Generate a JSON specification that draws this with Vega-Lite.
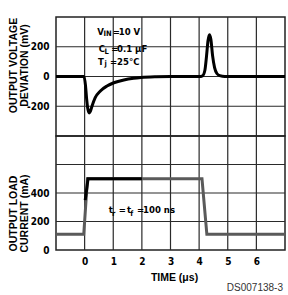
{
  "$schema": "https://vega.github.io/schema/vega-lite/v6.json",
  "padding": {"left": 7, "top": 11, "right": 0, "bottom": 0},
  "background": "white",
  "title": {"text": "DS007138-3", "orient": "bottom", "anchor": "end", "frame": "group", "font": "Liberation Sans", "fontSize": 10, "fontWeight": "normal", "color": "#333", "offset": 0, "dx": -2},
  "spacing": 0,
  "bounds": "flush",
  "datasets": {
    "volt": [
      {"t": -1, "v": 0}, {"t": -0.02, "v": 0}, {"t": 0.03, "v": -60}, {"t": 0.07, "v": -150},
      {"t": 0.11, "v": -215}, {"t": 0.16, "v": -245}, {"t": 0.2, "v": -235}, {"t": 0.26, "v": -198},
      {"t": 0.37, "v": -142}, {"t": 0.55, "v": -97}, {"t": 0.78, "v": -64}, {"t": 1.02, "v": -42},
      {"t": 1.37, "v": -23}, {"t": 1.71, "v": -12}, {"t": 1.97, "v": -7}, {"t": 2.5, "v": -2},
      {"t": 3, "v": 0}, {"t": 4.0, "v": 0}, {"t": 4.12, "v": 5}, {"t": 4.2, "v": 40},
      {"t": 4.26, "v": 140}, {"t": 4.31, "v": 240}, {"t": 4.36, "v": 281}, {"t": 4.41, "v": 250},
      {"t": 4.47, "v": 140}, {"t": 4.54, "v": 60}, {"t": 4.62, "v": 20}, {"t": 4.72, "v": 6},
      {"t": 4.9, "v": 0}, {"t": 7, "v": 0}
    ],
    "curGray": [
      {"t": -1, "i": 110}, {"t": -0.03, "i": 110}, {"t": 0.1, "i": 500}, {"t": 4.1, "i": 500},
      {"t": 4.27, "i": 110}, {"t": 7, "i": 110}
    ],
    "curBlack": [
      {"t": 0.02, "i": 350}, {"t": 0.12, "i": 500}, {"t": 2.0, "i": 500}
    ],
    "xGrid": [{"g": 0}, {"g": 1}, {"g": 2}, {"g": 3}, {"g": 4}, {"g": 5}, {"g": 6}],
    "topYGrid": [{"g": -200}, {"g": 0}, {"g": 200}],
    "botYGrid": [{"g": 200}, {"g": 400}, {"g": 600}],
    "topMain": [
      {"x": 0.443, "y": 281, "s": "V"}, {"x": 0.981, "y": 281, "s": "="}, {"x": 1.19, "y": 281, "s": "10 V"},
      {"x": 0.492, "y": 163, "s": "C"}, {"x": 0.932, "y": 163, "s": "="}, {"x": 1.131, "y": 163, "s": "0.1 μF"},
      {"x": 0.467, "y": 79, "s": "T"}, {"x": 0.886, "y": 79, "s": "="}, {"x": 1.131, "y": 79, "s": "25°C"}
    ],
    "topSub": [
      {"x": 0.66, "y": 270, "s": "IN"}, {"x": 0.69, "y": 150, "s": "L"}, {"x": 0.69, "y": 70, "s": "j"}
    ],
    "botMain": [
      {"x": 0.841, "y": 257, "s": "t"}, {"x": 1.19, "y": 257, "s": "="}, {"x": 1.48, "y": 257, "s": "t"},
      {"x": 1.83, "y": 257, "s": "="}, {"x": 2.04, "y": 257, "s": "100 ns"}
    ],
    "botSub": [
      {"x": 0.956, "y": 240, "s": "r"}, {"x": 1.596, "y": 240, "s": "f"}
    ]
  },
  "vconcat": [
    {
      "width": 229,
      "height": 119,
      "layer": [
        {
          "data": {"name": "xGrid"},
          "mark": {"type": "rule", "color": "#2a2a2a", "strokeWidth": 1.2},
          "encoding": {
            "x": {"field": "g", "type": "quantitative", "scale": {"domain": [-1, 7], "nice": false, "zero": false},
              "axis": {"tickCount": 8, "labels": false, "title": null}}
          }
        },
        {
          "data": {"name": "topYGrid"},
          "mark": {"type": "rule", "color": "#2a2a2a", "strokeWidth": 1.2},
          "encoding": {
            "y": {"field": "g", "type": "quantitative", "scale": {"domain": [-400, 400], "nice": false, "zero": false},
              "axis": {"tickCount": 4,
                "labelExpr": "datum.value == 400 || datum.value == -400 ? '' : '' + datum.value",
                "title": ["OUTPUT VOLTAGE", "DEVIATION (mV)"],
                "titleX": -43, "titleY": 48, "titleBaseline": "middle", "titleAlign": "center", "titleAngle": -90}}
          }
        },
        {
          "data": {"name": "volt"},
          "mark": {"type": "line", "color": "black", "strokeWidth": 3, "interpolate": "monotone"},
          "encoding": {
            "x": {"field": "t", "type": "quantitative"},
            "y": {"field": "v", "type": "quantitative"}
          }
        },
        {
          "data": {"name": "topMain"},
          "mark": {"type": "text", "align": "left", "baseline": "alphabetic", "font": "DejaVu Sans Condensed", "fontWeight": "bold", "fontSize": 9.5, "color": "black"},
          "encoding": {
            "x": {"field": "x", "type": "quantitative"},
            "y": {"field": "y", "type": "quantitative"},
            "text": {"field": "s"}
          }
        },
        {
          "data": {"name": "topSub"},
          "mark": {"type": "text", "align": "left", "baseline": "alphabetic", "font": "DejaVu Sans Condensed", "fontWeight": "bold", "fontSize": 7.5, "color": "black"},
          "encoding": {
            "x": {"field": "x", "type": "quantitative"},
            "y": {"field": "y", "type": "quantitative"},
            "text": {"field": "s"}
          }
        }
      ]
    },
    {
      "width": 229,
      "height": 114,
      "layer": [
        {
          "data": {"name": "xGrid"},
          "mark": {"type": "rule", "color": "#2a2a2a", "strokeWidth": 1.2},
          "encoding": {
            "x": {"field": "g", "type": "quantitative", "scale": {"domain": [-1, 7], "nice": false, "zero": false},
              "axis": {"tickCount": 8,
                "labelExpr": "datum.value >= 0 && datum.value <= 6 ? '' + datum.value : ''",
                "labelPadding": 6,
                "title": "TIME (μs)", "titleX": 118, "titleY": 27, "titleBaseline": "middle", "titleAlign": "center"}}
          }
        },
        {
          "data": {"name": "botYGrid"},
          "mark": {"type": "rule", "color": "#2a2a2a", "strokeWidth": 1.2},
          "encoding": {
            "y": {"field": "g", "type": "quantitative", "scale": {"domain": [0, 800], "nice": false, "zero": false},
              "axis": {"tickCount": 4,
                "labelExpr": "datum.value <= 400 ? '' + datum.value : ''",
                "title": ["OUTPUT LOAD", "CURRENT (mA)"],
                "titleX": -43, "titleY": 77, "titleBaseline": "middle", "titleAlign": "center", "titleAngle": -90}}
          }
        },
        {
          "data": {"name": "curGray"},
          "mark": {"type": "line", "color": "#5a5a5a", "strokeWidth": 3},
          "encoding": {
            "x": {"field": "t", "type": "quantitative"},
            "y": {"field": "i", "type": "quantitative"}
          }
        },
        {
          "data": {"name": "curBlack"},
          "mark": {"type": "line", "color": "black", "strokeWidth": 3},
          "encoding": {
            "x": {"field": "t", "type": "quantitative"},
            "y": {"field": "i", "type": "quantitative"}
          }
        },
        {
          "data": {"name": "botMain"},
          "mark": {"type": "text", "align": "left", "baseline": "alphabetic", "font": "DejaVu Sans Condensed", "fontWeight": "bold", "fontSize": 9.5, "color": "black"},
          "encoding": {
            "x": {"field": "x", "type": "quantitative"},
            "y": {"field": "y", "type": "quantitative"},
            "text": {"field": "s"}
          }
        },
        {
          "data": {"name": "botSub"},
          "mark": {"type": "text", "align": "left", "baseline": "alphabetic", "font": "DejaVu Sans Condensed", "fontWeight": "bold", "fontSize": 7.5, "color": "black"},
          "encoding": {
            "x": {"field": "x", "type": "quantitative"},
            "y": {"field": "y", "type": "quantitative"},
            "text": {"field": "s"}
          }
        }
      ]
    }
  ],
  "config": {
    "view": {"stroke": "#222", "strokeWidth": 1.5},
    "axis": {
      "grid": false,
      "domain": false, "ticks": false, "tickSize": 0,
      "labelFont": "DejaVu Sans Condensed", "labelFontWeight": "bold", "labelFontSize": 10, "labelColor": "black",
      "labelPadding": 7, "labelFlush": false, "labelOverlap": false, "labelBound": false,
      "titleFont": "Liberation Sans", "titleFontWeight": "bold", "titleFontSize": 10.5, "titleColor": "black", "titleLineHeight": 11
    }
  }
}
